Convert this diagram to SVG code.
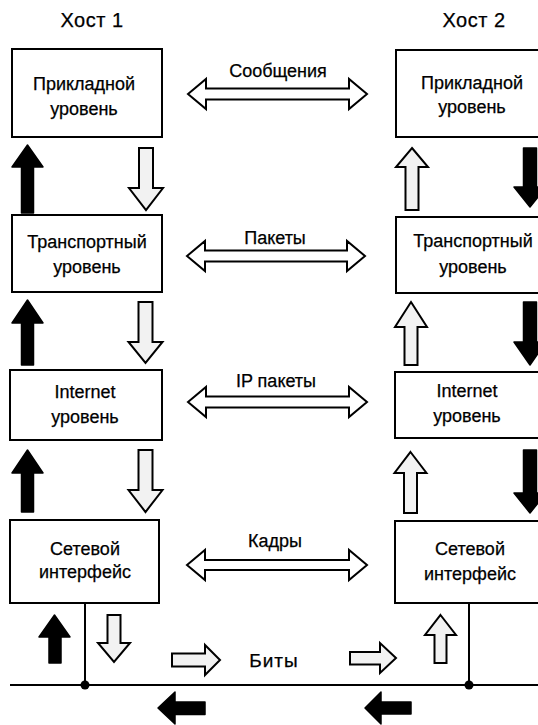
<svg xmlns="http://www.w3.org/2000/svg" width="538" height="725" viewBox="0 0 538 725">
<style>
text{font-family:"Liberation Sans",Arial,sans-serif;fill:#000;text-anchor:middle;stroke:#000;stroke-width:0.25}
.host{font-size:20px;letter-spacing:0.5px}
.lbl{font-size:18px}
.edge{font-size:19px;letter-spacing:1px}
.box{fill:#fff;stroke:#000;stroke-width:2}
.blk{fill:#000;stroke:#000;stroke-width:1.5;stroke-linejoin:round}
.hol{fill:#f2f2f2;stroke:#000;stroke-width:2;stroke-linejoin:miter}
.dbl{fill:#fff;stroke:#000;stroke-width:2;stroke-linejoin:miter}
.line{stroke:#000;stroke-width:2;fill:none}
</style>
<rect width="538" height="725" fill="#fff"/>
<g id="host1-title"><text class="host" x="92" y="27">Хост 1</text></g>
<g id="host2-title"><text class="host" x="474" y="27">Хост 2</text></g>

<g id="h1-app"><rect class="box" x="12" y="49" width="150" height="88"/><text class="lbl" x="84" y="90">Прикладной</text><text class="lbl" x="84" y="115">уровень</text></g>
<g id="h2-app"><rect class="box" x="396" y="50" width="150" height="87"/><text class="lbl" x="472" y="89">Прикладной</text><text class="lbl" x="472" y="113">уровень</text></g>
<g id="h1-transport"><rect class="box" x="12" y="215" width="150" height="77"/><text class="lbl" x="87" y="248">Транспортный</text><text class="lbl" x="87" y="273">уровень</text></g>
<g id="h2-transport"><rect class="box" x="396" y="217" width="150" height="76"/><text class="lbl" x="473" y="247">Транспортный</text><text class="lbl" x="473" y="273">уровень</text></g>
<g id="h1-internet"><rect class="box" x="10" y="370" width="152" height="70"/><text class="lbl" x="85" y="398">Internet</text><text class="lbl" x="85" y="423">уровень</text></g>
<g id="h2-internet"><rect class="box" x="395" y="372" width="150" height="66"/><text class="lbl" x="467" y="397">Internet</text><text class="lbl" x="467" y="422">уровень</text></g>
<g id="h1-net"><rect class="box" x="10" y="520" width="149" height="83"/><text class="lbl" x="85" y="555">Сетевой</text><text class="lbl" x="85" y="578">интерфейс</text></g>
<g id="h2-net"><rect class="box" x="395" y="521" width="150" height="82"/><text class="lbl" x="470" y="555">Сетевой</text><text class="lbl" x="470" y="580">интерфейс</text></g>

<g id="connectors">
<path class="dbl" d="M188,94 L206,79 L206,88.5 L349,88.5 L349,79 L367,94 L349,109 L349,99.5 L206,99.5 L206,109 Z"/>
<path class="dbl" d="M187,256 L205,241 L205,250.5 L347,250.5 L347,241 L365,256 L347,271 L347,261.5 L205,261.5 L205,271 Z"/>
<path class="dbl" d="M188,402 L206,387 L206,396.5 L349,396.5 L349,387 L367,402 L349,417 L349,407.5 L206,407.5 L206,417 Z"/>
<path class="dbl" d="M187,565 L205,550 L205,560 L349,560 L349,550 L367,565 L349,580 L349,570 L205,570 L205,580 Z"/>

<path class="blk" d="M27.5,145 L43,167 L33.5,167 L33.5,213 L21.5,213 L21.5,167 L12,167 Z"/>
<path class="blk" d="M27.5,300 L43,323 L33.5,323 L33.5,365 L21.5,365 L21.5,323 L12,323 Z"/>
<path class="blk" d="M27.5,450 L43,473 L33.5,473 L33.5,512 L21.5,512 L21.5,473 L12,473 Z"/>
<path class="blk" d="M54.5,615 L70,637 L61,637 L61,663 L49,663 L49,637 L39,637 Z"/>

<path class="hol" d="M139,148 L153,148 L153,188 L163,188 L146,210 L129,188 L139,188 Z"/>
<path class="hol" d="M138.5,302 L152.5,302 L152.5,342 L162.5,342 L145.5,363 L128.5,342 L138.5,342 Z"/>
<path class="hol" d="M138.5,450 L152.5,450 L152.5,490 L162.5,490 L145.5,512 L128.5,490 L138.5,490 Z"/>
<path class="hol" d="M107.5,615 L120.5,615 L120.5,643 L130,643 L114,662 L98,643 L107.5,643 Z"/>

<path class="hol" d="M412,148 L428,167 L418.5,167 L418.5,210 L405.5,210 L405.5,167 L396,167 Z"/>
<path class="hol" d="M411,302 L427,327 L417.5,327 L417.5,365 L404.5,365 L404.5,327 L395,327 Z"/>
<path class="hol" d="M410.5,452 L426.5,473 L417,473 L417,513 L404,513 L404,473 L394.5,473 Z"/>
<path class="hol" d="M440.5,615 L456,635 L446.5,635 L446.5,663 L434.5,663 L434.5,635 L425,635 Z"/>

<path class="blk" d="M523.5,148 L536.5,148 L536.5,187 L546,187 L530,207 L514,187 L523.5,187 Z"/>
<path class="blk" d="M523.5,302 L536.5,302 L536.5,342 L546,342 L530,365 L514,342 L523.5,342 Z"/>
<path class="blk" d="M523.5,450 L536.5,450 L536.5,493 L546,493 L530,513 L514,493 L523.5,493 Z"/>

<line class="line" x1="10" y1="685" x2="538" y2="685"/>
<line class="line" x1="85" y1="603" x2="85" y2="685" stroke-width="1.5"/>
<line class="line" x1="469" y1="603" x2="469" y2="685" stroke-width="1.5"/>
<circle cx="85" cy="685" r="4.5" fill="#000"/>
<circle cx="469" cy="685" r="4.5" fill="#000"/>

<path class="hol" d="M172,653.5 L205,653.5 L205,645 L220,660 L205,675 L205,666.5 L172,666.5 Z"/>
<path class="hol" d="M350,652 L380,652 L380,643 L396,658 L380,673 L380,664.5 L350,664.5 Z"/>
<path class="blk" d="M158,708 L175,692 L175,702 L205,702 L205,714.5 L175,714.5 L175,724 Z"/>
<path class="blk" d="M365,708 L381,692 L381,702 L411,702 L411,714 L381,714 L381,724 Z"/>

<text class="lbl" x="278" y="77">Сообщения</text>
<text class="lbl" x="275" y="244">Пакеты</text>
<text class="lbl" x="276" y="387">IP пакеты</text>
<text class="lbl" x="275" y="547">Кадры</text>
<text class="edge" x="274" y="667">Биты</text>
</g>
</svg>
